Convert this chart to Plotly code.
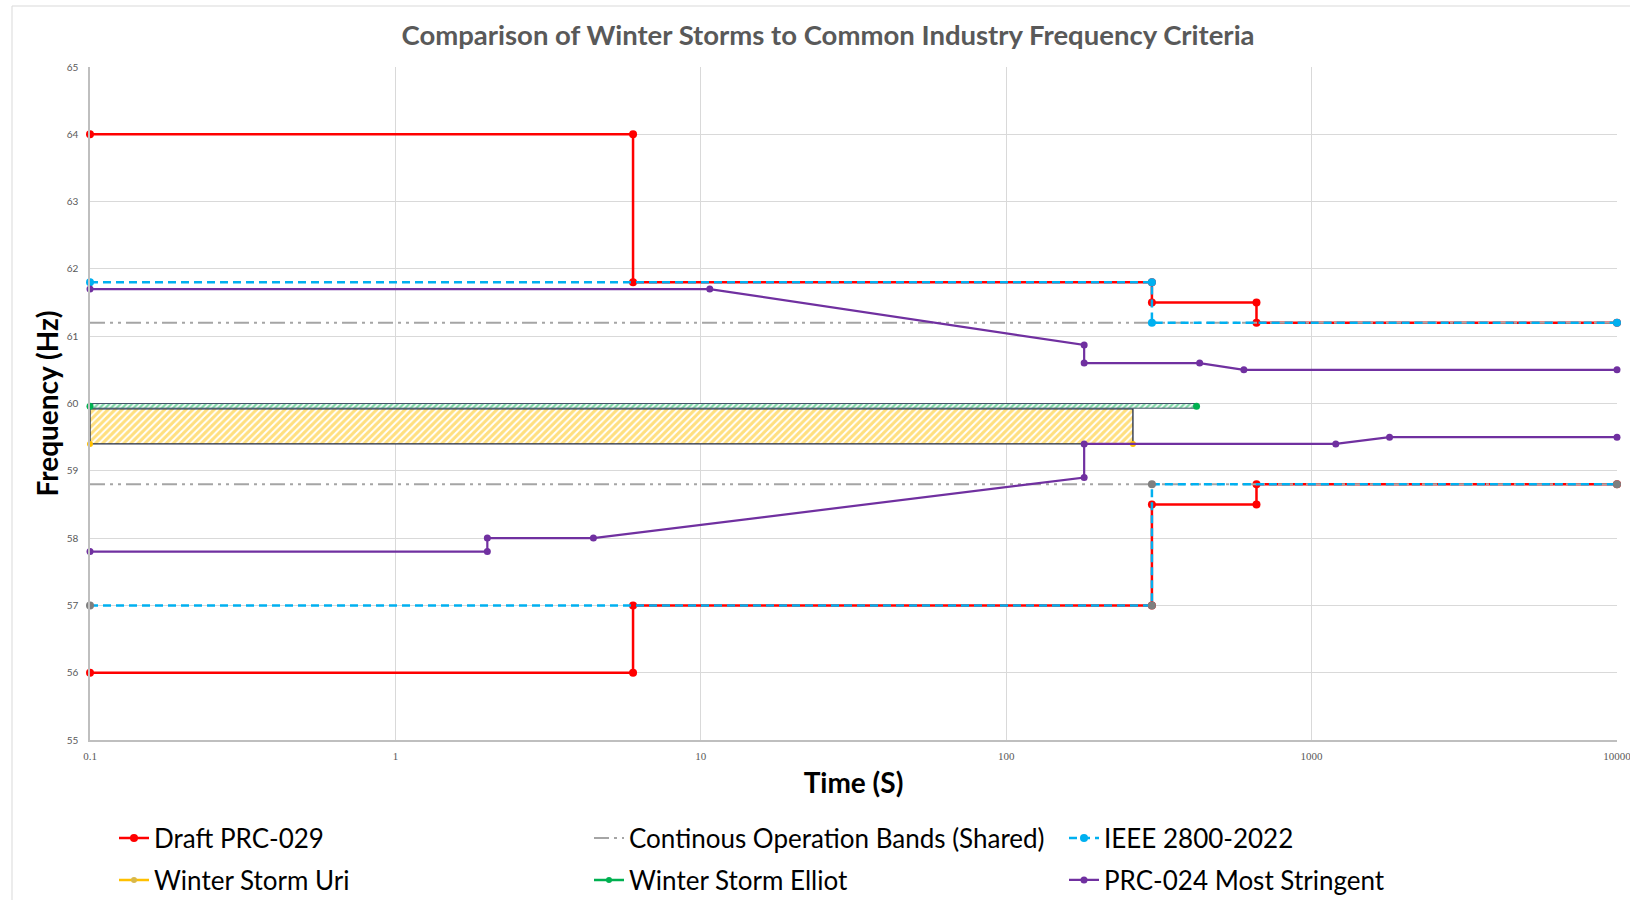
import plotly.graph_objects as go

# ---------------- data ----------------
x_tick_vals = [0.1, 1, 10, 100, 1000, 10000]
x_tick_text = ["0.1", "1", "10", "100", "1000", "10000"]
y_tick_vals = [55, 56, 57, 58, 59, 60, 61, 62, 63, 64, 65]

# Draft PRC-029 (high side / low side)
prc029_hi_t = [0.1, 6, 6, 300, 300, 660, 660, 10000]
prc029_hi_f = [64, 64, 61.8, 61.8, 61.5, 61.5, 61.2, 61.2]
prc029_lo_t = [0.1, 6, 6, 300, 300, 660, 660, 10000]
prc029_lo_f = [56, 56, 57, 57, 58.5, 58.5, 58.8, 58.8]

# Continuous operation bands (shared)
cont_t = [0.1, 10000]
cont_hi_f = [61.2, 61.2]
cont_lo_f = [58.8, 58.8]

# IEEE 2800-2022
ieee_hi_t = [0.1, 300, 300, 10000]
ieee_hi_f = [61.8, 61.8, 61.2, 61.2]
ieee_lo_t = [0.1, 300, 300, 10000]
ieee_lo_f = [57, 57, 58.8, 58.8]

# Winter Storm Uri (band)
uri_t = [0.1, 260]
uri_lo_f = [59.4, 59.4]
uri_hi_f = [59.92, 59.92]

# Winter Storm Elliot (band)
elliot_t = [0.1, 420]
elliot_f = [59.96, 59.96]
elliot_lo_f = [59.93, 59.93]
elliot_hi_f = [60.0, 60.0]

# PRC-024 most stringent
prc024_hi_t = [0.1, 10.7, 180, 180, 430, 600, 10000]
prc024_hi_f = [61.7, 61.7, 60.87, 60.6, 60.6, 60.5, 60.5]
prc024_lo_t = [0.1, 2, 2, 4.45, 180, 180, 1200, 1800, 10000]
prc024_lo_f = [57.8, 57.8, 58.0, 58.0, 58.9, 59.4, 59.4, 59.5, 59.5]

# ---------------- styles ----------------
RED = "#FF0000"
GRAY = "#A5A5A5"
BLUE = "#00B0F0"
YELLOW = "#FFC000"
GREEN = "#00B050"
PURPLE = "#7030A0"
FONT = "Lato"
DASHDOTDOT = "15px,5px,3px,5px,3px,5px"


def band(ts, lo, hi):
    xs = [ts[0], ts[0], ts[-1], ts[-1], ts[0]]
    ys = [lo[0], hi[0], hi[-1], lo[-1], lo[0]]
    return xs, ys


fig = go.Figure()

# Draft PRC-029
fig.add_trace(go.Scatter(
    x=prc029_hi_t + [None] + prc029_lo_t,
    y=prc029_hi_f + [None] + prc029_lo_f,
    mode="lines+markers", name="Draft PRC-029",
    line=dict(color=RED, width=2.5), marker=dict(color=RED, size=8),
    cliponaxis=False, legend="legend"))

# Continuous operation bands
fig.add_trace(go.Scatter(
    x=cont_t + [None] + cont_t,
    y=cont_hi_f + [None] + cont_lo_f,
    mode="lines", name="Continous Operation Bands (Shared)",
    line=dict(color=GRAY, width=2, dash=DASHDOTDOT),
    legend="legend"))

# IEEE 2800-2022
fig.add_trace(go.Scatter(
    x=ieee_hi_t, y=ieee_hi_f,
    mode="lines+markers", name="IEEE 2800-2022",
    line=dict(color=BLUE, width=2.5, dash="8px,5px"),
    marker=dict(color=BLUE, size=8),
    cliponaxis=False, legend="legend"))
fig.add_trace(go.Scatter(
    x=ieee_lo_t, y=ieee_lo_f,
    mode="lines+markers", name="IEEE 2800-2022 (low)", showlegend=False,
    line=dict(color=BLUE, width=2.5, dash="8px,5px"),
    marker=dict(color="#7F7F7F", size=8), cliponaxis=False))

# Winter Storm Uri band
ux, uy = band(uri_t, uri_lo_f, uri_hi_f)
fig.add_trace(go.Scatter(
    x=ux, y=uy, mode="lines", fill="toself", showlegend=False,
    name="Winter Storm Uri band",
    line=dict(color="#1F2A44", width=1.3),
    fillcolor="white",
    fillpattern=dict(shape="/", fgcolor=YELLOW, bgcolor="white",
                     size=5, solidity=0.62)))
fig.add_trace(go.Scatter(
    x=uri_t, y=uri_lo_f, mode="markers", name="Winter Storm Uri",
    showlegend=False, marker=dict(color=YELLOW, size=6), cliponaxis=False))

# Winter Storm Elliot band
ex, ey = band(elliot_t, elliot_lo_f, elliot_hi_f)
fig.add_trace(go.Scatter(
    x=ex, y=ey, mode="lines", fill="toself", showlegend=False,
    name="Winter Storm Elliot band",
    line=dict(color="#44546A", width=1),
    fillcolor="white",
    fillpattern=dict(shape="/", fgcolor=GREEN, bgcolor="white",
                     size=4, solidity=0.6)))
fig.add_trace(go.Scatter(
    x=elliot_t, y=elliot_f, mode="markers", name="Winter Storm Elliot",
    showlegend=False, marker=dict(color=GREEN, size=7), cliponaxis=False))

# PRC-024
fig.add_trace(go.Scatter(
    x=prc024_hi_t + [None] + prc024_lo_t,
    y=prc024_hi_f + [None] + prc024_lo_f,
    mode="lines+markers", name="PRC-024 Most Stringent",
    line=dict(color=PURPLE, width=2.2), marker=dict(color=PURPLE, size=7),
    cliponaxis=False, legend="legend2", legendrank=3))

# legend entries for the storm bands (line + marker symbol, as in the original)
fig.add_trace(go.Scatter(
    x=[None], y=[None], mode="lines+markers", name="Winter Storm Uri",
    line=dict(color=YELLOW, width=2.5), marker=dict(color="#D9B84A", size=6),
    legend="legend2", legendrank=1))
fig.add_trace(go.Scatter(
    x=[None], y=[None], mode="lines+markers", name="Winter Storm Elliot",
    line=dict(color=GREEN, width=2.5), marker=dict(color=GREEN, size=6),
    legend="legend2", legendrank=2))

legend_common = dict(
    orientation="h", xref="container", yref="container",
    xanchor="left", yanchor="middle", entrywidth=430, itemwidth=30,
    font=dict(family=FONT, size=26, color="#000000"),
    bgcolor="rgba(0,0,0,0)", traceorder="normal")

fig.update_layout(
    width=1630, height=900,
    paper_bgcolor="white", plot_bgcolor="white",
    margin=dict(l=90, r=13, t=67, b=160),
    font=dict(family=FONT, color="#595959"),
    title=dict(text="<b>Comparison of Winter Storms to Common Industry Frequency Criteria</b>",
               x=0.508, xref="container", xanchor="center",
               y=1 - 35 / 900, yref="container", yanchor="middle",
               font=dict(family=FONT, size=27.5, color="#595959")),
    legend=dict(x=114 / 1630, y=1 - 838 / 900, **legend_common),
    legend2=dict(x=114 / 1630, y=1 - 880 / 900, **legend_common),
    showlegend=True,
)

fig.update_xaxes(
    type="log", range=[-1, 4], automargin=False,
    tickvals=x_tick_vals, ticktext=x_tick_text,
    tickfont=dict(family="Liberation Serif", size=11, color="#595959"),
    ticklabeloverflow="allow",
    showgrid=True, gridcolor="#D9D9D9", gridwidth=1,
    showline=True, linecolor="#BFBFBF", linewidth=1.5,
    ticks="", ticklabelstandoff=5, zeroline=False,
    title=dict(text="<b>Time (S)</b>", standoff=12,
               font=dict(family=FONT, size=28, color="#000000")))

fig.update_yaxes(
    range=[55, 65], tickvals=y_tick_vals, automargin=False,
    tickfont=dict(family=FONT, size=10, color="#595959"),
    showgrid=True, gridcolor="#D9D9D9", gridwidth=1,
    showline=True, linecolor="#BFBFBF", linewidth=1.5,
    ticks="", ticklabelstandoff=8, zeroline=False,
    title=dict(text="<b>Frequency (Hz)</b>", standoff=0,
               font=dict(family=FONT, size=28, color="#000000")))

# outer chart-area border
fig.add_shape(type="rect", xref="paper", yref="paper",
              x0=(12 - 90) / 1527, x1=(1645 - 90) / 1527,
              y0=(740 - 910) / 673, y1=1 + (67 - 6) / 673,
              line=dict(color="#D9D9D9", width=1), layer="below")

fig.write_html("out.html")
